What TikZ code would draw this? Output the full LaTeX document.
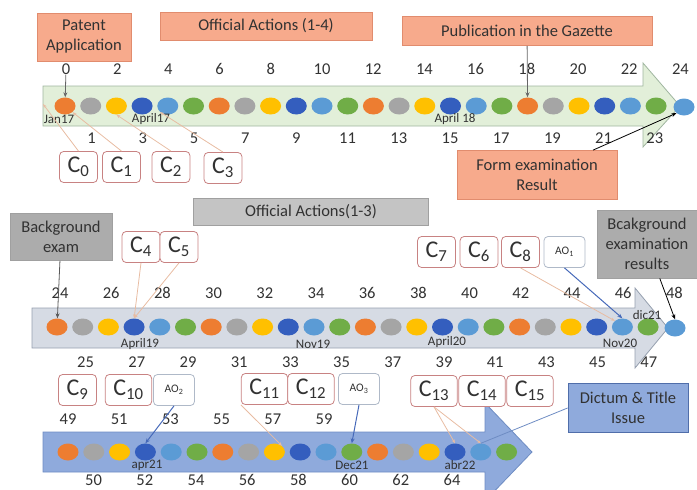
\documentclass[tikz,border=0pt]{standalone}
\usepackage{fontspec}
\setmainfont{Carlito}
\usetikzlibrary{arrows.meta,shapes.geometric}
\definecolor{Dot0}{RGB}{237,125,49}
\definecolor{Dot1}{RGB}{165,165,165}
\definecolor{Dot2}{RGB}{255,192,0}
\definecolor{Dot3}{RGB}{52,94,190}
\definecolor{Dot4}{RGB}{91,155,213}
\definecolor{Dot5}{RGB}{112,173,71}
\definecolor{BandOneClr}{RGB}{226,239,217}
\definecolor{BandOneLine}{RGB}{160,182,160}
\definecolor{BandTwoClr}{RGB}{214,219,228}
\definecolor{BandTwoLine}{RGB}{150,160,175}
\definecolor{BandThreeClr}{RGB}{143,170,220}
\definecolor{BandThreeLine}{RGB}{110,140,195}
\definecolor{SalmonClr}{RGB}{247,170,140}
\definecolor{SalmonLine}{RGB}{225,140,110}
\definecolor{GrayBoxClr}{RGB}{196,196,196}
\definecolor{DarkGrayBoxClr}{RGB}{172,172,172}
\definecolor{GrayBoxLine}{RGB}{160,160,160}
\definecolor{DictumLine}{RGB}{80,110,170}
\definecolor{CBoxLine}{RGB}{200,130,130}
\definecolor{AOBoxLine}{RGB}{175,185,200}
\definecolor{CLineClr}{RGB}{232,188,162}
\definecolor{AOLineClr}{RGB}{70,105,185}
\definecolor{TextClr}{RGB}{50,50,50}

\begin{document}
\begin{tikzpicture}[x=1pt,y=-1pt,
  dot/.style={ellipse,minimum width=21pt,minimum height=17pt,inner sep=0pt},
  num/.style={font=\fontsize{16.5}{20}\selectfont,text=TextClr,inner sep=0pt},
  datelbl/.style={font=\fontsize{13}{15}\selectfont,text=TextClr,inner sep=0pt},
  bigbox/.style={draw=#1,line width=.8pt,align=center,inner sep=0pt,
    font=\fontsize{16.5}{20}\selectfont,text=TextClr},
  cbox/.style={draw=CBoxLine,fill=white,rounded corners=4pt,line width=.8pt,
    minimum width=37pt,minimum height=31pt,inner xsep=8pt,inner ysep=0pt,
    font=\fontsize{24}{26}\selectfont,text=TextClr},
  aobox/.style={draw=AOBoxLine,fill=white,rounded corners=4pt,line width=.8pt,
    minimum width=41pt,minimum height=31pt,inner sep=0pt,
    font=\fontsize{11.5}{13}\selectfont,text=TextClr},
  cline/.style={draw=CLineClr,line width=.8pt,-{Stealth[length=4pt,width=3pt]}},
  aoline/.style={draw=AOLineClr,line width=1pt,-{Stealth[length=5pt,width=4pt]}},
  darkline/.style={draw=#1,line width=.8pt,-{Stealth[length=5pt,width=4pt]}}]
\useasboundingbox (0,0) rectangle (697,490);

% bands
\draw[draw=BandOneLine,fill=BandOneClr,line width=.8pt] (43,86) -- (643,86) -- (643,63) -- (680,106) -- (643,147) -- (643,126) -- (43,126) -- cycle;
\draw[draw=BandTwoLine,fill=BandTwoClr,line width=.8pt] (32,308) -- (635,308) -- (635,288) -- (668,328) -- (635,368) -- (635,348) -- (32,348) -- cycle;
\draw[draw=BandThreeLine,fill=BandThreeClr,line width=.8pt] (43,432) -- (485,432) -- (485,403) -- (532,452) -- (485,501) -- (485,472) -- (43,472) -- cycle;
\coordinate (r1w) at (43,104);

% first row: 0 to 24
\foreach \k in {0,...,23}{
  \pgfmathtruncatemacro{\m}{mod(\k,6)}
  \node[dot,fill=Dot\m] (a\k) at ({65+25.7*\k},106) {};
}
\node[dot,fill=Dot4] (a24) at (684,107) {};
\foreach \k in {0,2,...,24}
  \node[num] (na\k) at ({66+25.6*\k},69) {\k};
\foreach \k in {1,3,...,23}
  \node[num] (na\k) at ({66+25.6*\k},138) {\k};
\node[datelbl] (jan17) at (59,119) {Jan17};
\node[datelbl] (apr17) at (151,119) {April17};
\node[datelbl] (apr18) at (455,119) {April 18};

% second row: 24 to 48
\foreach \k in {24,...,47}{
  \pgfmathtruncatemacro{\m}{mod(\k-24,6)}
  \node[dot,fill=Dot\m] (b\k) at ({57+25.7*(\k-24)},327) {};
}
\node[dot,fill=Dot4] (b48) at (675,328) {};
\foreach \k in {24,26,...,48}
  \node[num] (nb\k) at ({60+25.6*(\k-24)},293) {\k};
\foreach \k in {25,27,...,47}
  \node[num] (nb\k) at ({60+25.6*(\k-24)},362) {\k};
\node[datelbl] (apr19) at (140,344) {April19};
\node[datelbl] (nov19) at (313,344) {Nov19};
\node[datelbl] (apr20) at (447,342) {April20};
\node[datelbl] (nov20) at (620,343) {Nov20};
\node[datelbl] (dic21) at (647,315) {dic21};

% third row: 49 to 66
\foreach \k in {49,...,66}{
  \pgfmathtruncatemacro{\m}{mod(\k-49,6)}
  \node[dot,fill=Dot\m] (c\k) at ({68+25.8*(\k-49)},452) {};
}
\foreach \k in {49,51,...,59}
  \node[num] (nc\k) at ({68+25.6*(\k-49)},419) {\k};
\foreach \k in {50,52,...,64}
  \node[num] (nc\k) at ({68+25.6*(\k-49)},480) {\k};
\node[datelbl] (apr21) at (147,465) {apr21};
\node[datelbl] (dec21) at (352,465) {Dec21};
\node[datelbl] (abr22) at (460,465) {abr22};

% labels
\node[bigbox=SalmonLine,fill=SalmonClr,minimum width=94pt,minimum height=48pt] (patent) at (84,37) {Patent\\Application};
\node[bigbox=SalmonLine,fill=SalmonClr,minimum width=212pt,minimum height=28pt] (oa14) at (266,26) {Official Actions (1-4)};
\node[bigbox=SalmonLine,fill=SalmonClr,minimum width=250pt,minimum height=29pt] (gazette) at (527,31) {Publication in the Gazette};
\node[bigbox=SalmonLine,fill=SalmonClr,minimum width=160pt,minimum height=49pt] (formexam) at (537,175) {Form examination\\Result};
\node[bigbox=GrayBoxLine,fill=GrayBoxClr,minimum width=235pt,minimum height=27pt] (oa13) at (311,212) {Official Actions(1-3)};
\node[bigbox=GrayBoxLine,fill=DarkGrayBoxClr,minimum width=102pt,minimum height=47pt] (bgexam) at (61,237) {Background\\exam};
\node[bigbox=GrayBoxLine,fill=DarkGrayBoxClr,minimum width=100pt,minimum height=68pt] (bgresult) at (647,244) {Bcakground\\examination\\results};
\node[bigbox=DictumLine,fill=BandThreeClr,minimum width=120pt,minimum height=49pt] (dictum) at (628,408) {Dictum \& Title\\Issue};

% claims and actions
\node[cbox] (C0) at (78.5,167) {C\textsubscript{0}};
\node[cbox] (C1) at (121.5,167) {C\textsubscript{1}};
\node[cbox] (C2) at (171,167) {C\textsubscript{2}};
\node[cbox] (C3) at (223,168) {C\textsubscript{3}};
\node[cbox] (C4) at (141,247) {C\textsubscript{4}};
\node[cbox] (C5) at (179,247) {C\textsubscript{5}};
\node[cbox] (C7) at (436.5,252) {C\textsubscript{7}};
\node[cbox] (C6) at (479,252) {C\textsubscript{6}};
\node[cbox] (C8) at (520.5,252) {C\textsubscript{8}};
\node[aobox] (AO1) at (564.5,252) {AO\textsubscript{1}};
\node[cbox] (C9) at (77.5,390) {C\textsubscript{9}};
\node[cbox] (C10) at (128.5,390) {C\textsubscript{10}};
\node[aobox] (AO2) at (174,390) {AO\textsubscript{2}};
\node[cbox] (C11) at (264.5,389) {C\textsubscript{11}};
\node[cbox] (C12) at (311,389) {C\textsubscript{12}};
\node[aobox] (AO3) at (359,389) {AO\textsubscript{3}};
\node[cbox] (C13) at (434,391) {C\textsubscript{13}};
\node[cbox] (C14) at (482,391) {C\textsubscript{14}};
\node[cbox] (C15) at (530,391) {C\textsubscript{15}};

% connectors
\draw[darkline=gray!80!black] (na0) -- (a0);
\draw[darkline=gray!80!black] (gazette) -- (a18);
\draw[darkline=black] (formexam) -- (a24.south west);
\draw[cline] (C0.north) -- (r1w);
\draw[cline] (C1.north) -- (a0.south east);
\draw[cline] (C2.north) -- (a2.south);
\draw[cline] (C3.north) -- (a4.south west);
\draw[darkline=gray!70!black] (bgexam) -- (b24);
\draw[cline] (C4.south) -- (b27.north);
\draw[cline] (C5.south) -- (b27.north);
\draw[cline] (C8.south) -- (b46.north west);
\draw[aoline] (AO1.south) -- (b46.north);
\draw[darkline=black] (bgresult) -- (b48.north);
\draw[aoline] (AO2.south) -- (c52.north);
\draw[cline] (C11.south west) -- (c57.north east);
\draw[aoline] (AO3.south) -- (c60.north);
\draw[cline] (C13.south) -- (c64.north);
\draw[cline] (C13.south) -- (c65.north);
\draw[draw=BandThreeLine,line width=.8pt] (dictum.west) -- (c65.north);
\end{tikzpicture}
\end{document}
